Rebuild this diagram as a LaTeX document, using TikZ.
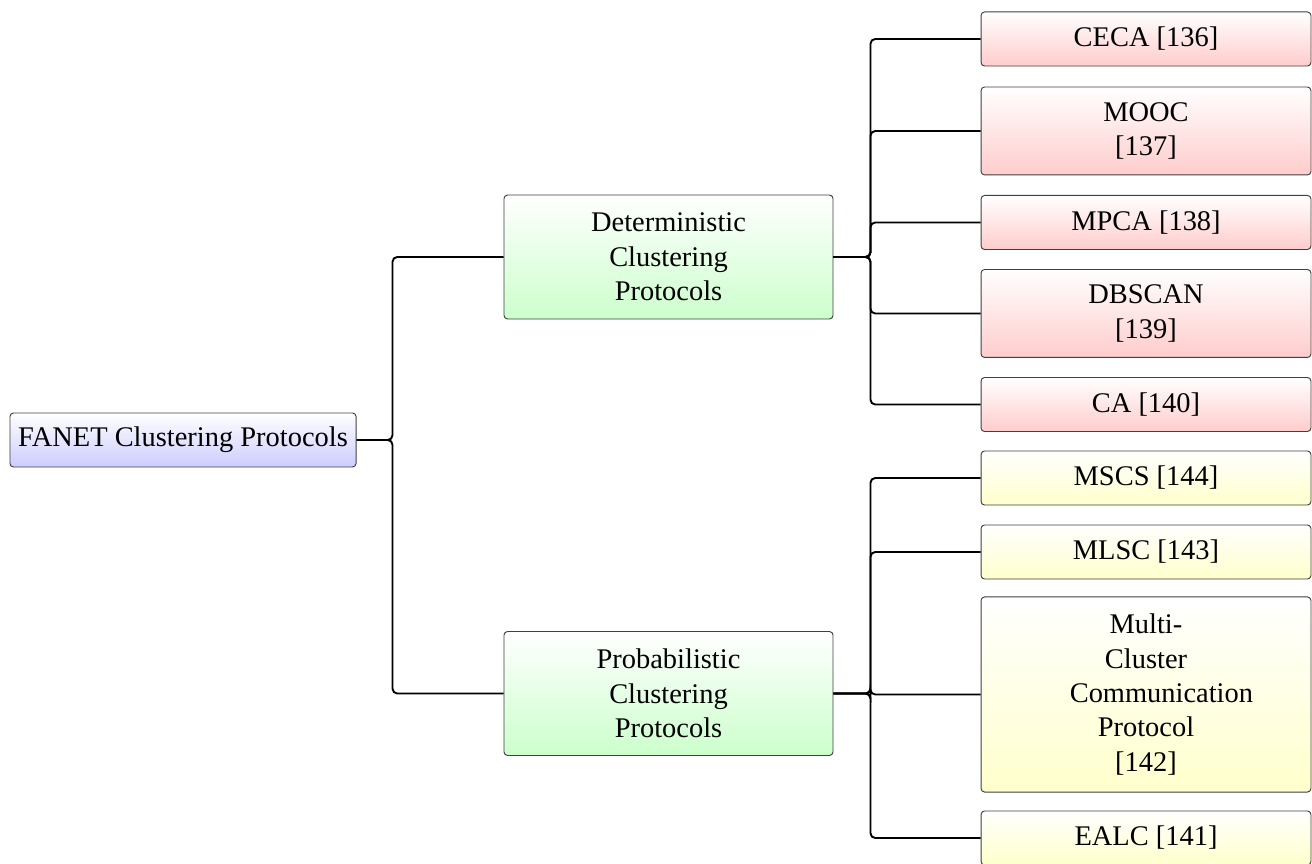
\documentclass[tikz,border=0pt]{standalone}
\usepackage{fontspec}
\setmainfont{Liberation Serif}

\begin{document}
\begin{tikzpicture}[x=0.4219pt, y=-0.4219pt,
    box/.style={draw=black!75, rounded corners=1.5pt, align=center, inner sep=2pt,
        font=\fontsize{12}{14.5}\selectfont},
    rootbox/.style={box, top color=white, bottom color=blue!20, minimum width=146pt, minimum height=22.8pt},
    midbox/.style={box, top color=white, bottom color=green!20, minimum width=138.8pt, minimum height=52.3pt},
    detleaf/.style={box, top color=white, bottom color=red!20, minimum width=139.2pt, minimum height=22.8pt},
    probleaf/.style={box, top color=white, bottom color=yellow!20, minimum width=139.2pt, minimum height=22.8pt},
    fork/.style={thick, rounded corners=2pt}]
    \useasboundingbox (0,0) rectangle (1312,864);

    % Root
    \node[rootbox] (root) at (183, 440) {FANET Clustering Protocols};

    % Two families
    \node[midbox] (det) at (668.5, 257) {Deterministic\\Clustering\\Protocols};
    \node[midbox] (prob) at (668.5, 693.5) {Probabilistic\\Clustering\\Protocols};

    % Deterministic protocols
    \node[detleaf] (ceca) at (1146, 39) {CECA [136]};
    \node[detleaf, minimum height=37.1pt] (mooc) at (1146, 131) {MOOC\\{[137]}};
    \node[detleaf] (mpca) at (1146, 222.5) {MPCA [138]};
    \node[detleaf, minimum height=37.1pt] (dbscan) at (1146, 313.5) {DBSCAN\\{[139]}};
    \node[detleaf] (ca) at (1146, 404.5) {CA [140]};

    % Probabilistic protocols
    \node[probleaf] (mscs) at (1146, 478) {MSCS [144]};
    \node[probleaf] (mlsc) at (1146, 552) {MLSC [143]};
    \node[probleaf, minimum height=82.3pt] (mccp) at (1146, 694.5)
        {Multi-\\Cluster\\\hspace*{13pt}Communication\\Protocol\\{[142]}};
    \node[probleaf] (ealc) at (1146, 838) {EALC [141]};

    % Forked edges
    \foreach \c in {det, prob}
        \draw[fork] (root.east) -- ++(36,0) |- (\c.west);
    \foreach \c in {ceca, mooc, mpca, dbscan, ca}
        \draw[fork] (det.east) -- ++(37,0) |- (\c.west);
    \foreach \c in {mscs, mlsc, mccp, ealc}
        \draw[fork] (prob.east) -- ++(37,0) |- (\c.west);
\end{tikzpicture}
\end{document}
